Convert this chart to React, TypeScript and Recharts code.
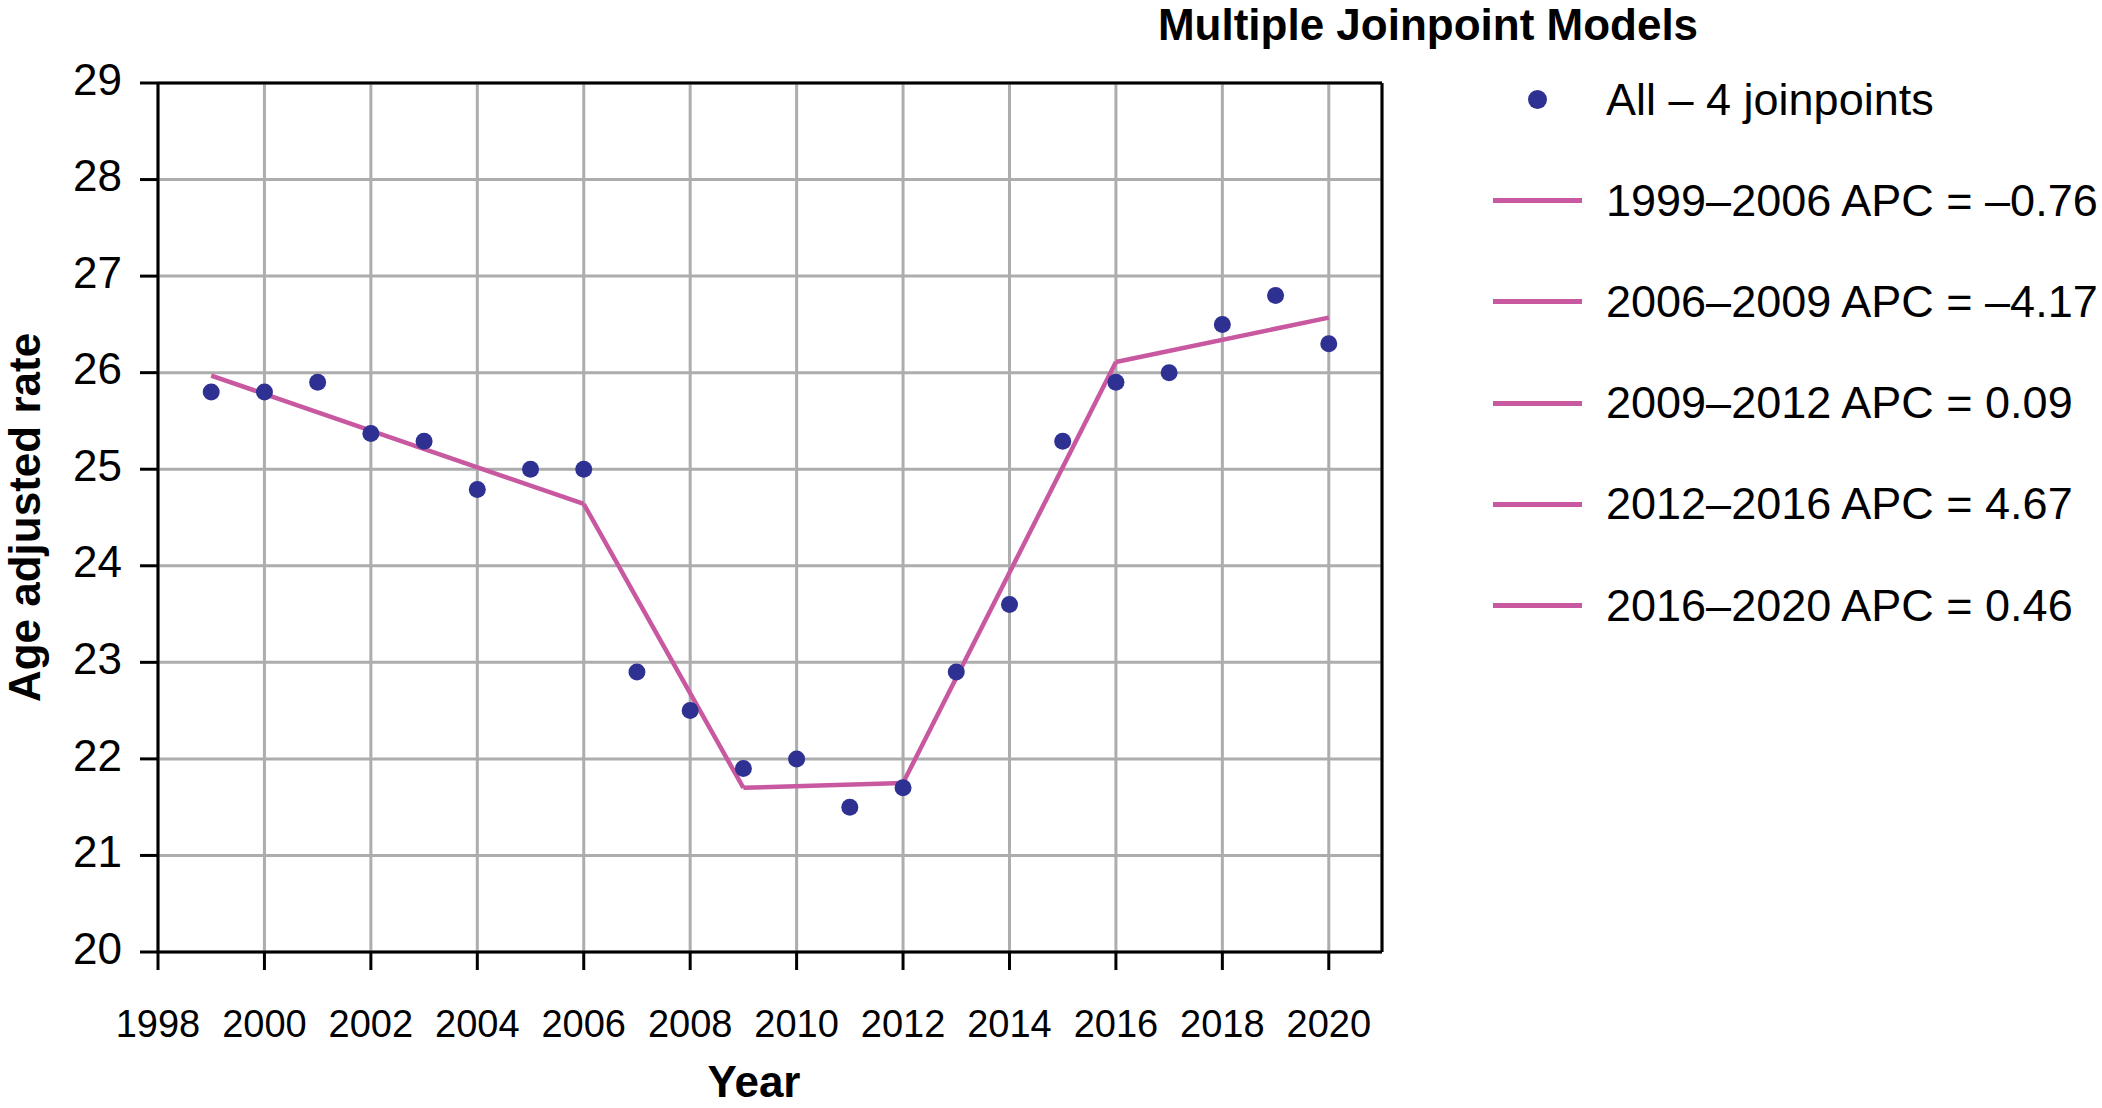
import React from 'react';
import { ComposedChart, Scatter, Line, XAxis, YAxis, CartesianGrid, ReferenceLine } from 'recharts';

const years = [1999, 2000, 2001, 2002, 2003, 2004, 2005, 2006, 2007, 2008, 2009, 2010, 2011, 2012, 2013, 2014, 2015, 2016, 2017, 2018, 2019, 2020];
const rates = [25.8, 25.8, 25.9, 25.37, 25.29, 24.79, 25.0, 25.0, 22.9, 22.5, 21.9, 22.0, 21.5, 21.7, 22.9, 23.6, 25.29, 25.9, 26.0, 26.5, 26.8, 26.3];

const joinpointYears = [1999, 2006, 2009, 2012, 2016, 2020];
const joinpointFits = [25.97, 24.64, 21.7, 21.75, 26.11, 26.57];

const pointsLabel = 'All – 4 joinpoints';
const segmentLabels = [
  '1999–2006 APC = –0.76',
  '2006–2009 APC = –4.17',
  '2009–2012 APC = 0.09',
  '2012–2016 APC = 4.67',
  '2016–2020 APC = 0.46',
];

const xTicks = [1998, 2000, 2002, 2004, 2006, 2008, 2010, 2012, 2014, 2016, 2018, 2020];
const yTicks = [20, 21, 22, 23, 24, 25, 26, 27, 28, 29];
const xDomain = [1998, 2021];
const yDomain = [20, 29];

const titleText = 'Multiple Joinpoint Models';
const xLabelText = 'Year';
const yLabelText = 'Age adjusted rate';

const DOT = '#2E3192';
const LINE = '#C858A0';
const GRID = '#ADADAD';
const FONT = "'Liberation Sans', Arial, sans-serif";

const pointData = years.map((year, i) => ({ year, rate: rates[i] }));
const segments = segmentLabels.map((name, i) => ({
  name,
  data: [
    { year: joinpointYears[i], fit: joinpointFits[i] },
    { year: joinpointYears[i + 1], fit: joinpointFits[i + 1] },
  ],
}));

const legendItems = [
  { label: pointsLabel, kind: 'dot', color: DOT },
  ...segmentLabels.map((label) => ({ label, kind: 'line', color: LINE })),
];

const DotShape = (props: any) => {
  const { cx, cy } = props;
  if (cx == null || cy == null) return null;
  return <circle cx={cx} cy={cy} r={8.5} fill={DOT} />;
};

const YLabel = (props: any) => {
  const vb = props.viewBox || { x: 0, y: 83, width: 158, height: 869 };
  const x = vb.x + 40;
  const y = vb.y + vb.height / 2;
  return (
    <text
      x={x}
      y={y}
      transform={`rotate(-90 ${x} ${y})`}
      textAnchor="middle"
      fontFamily={FONT}
      fontWeight="bold"
      fontSize={44}
      fill="#000"
    >
      {yLabelText}
    </text>
  );
};

const XLabel = (props: any) => {
  const vb = props.viewBox || { x: 158, y: 952, width: 1224, height: 156 };
  const x = vb.x + vb.width / 2 - 16;
  const y = vb.y + 145;
  return (
    <text x={x} y={y} textAnchor="middle" fontFamily={FONT} fontWeight="bold" fontSize={44} fill="#000">
      {xLabelText}
    </text>
  );
};

export default function App() {
  return (
    <div style={{ position: 'absolute', left: 0, top: 0, width: 2102, height: 1108, background: '#fff', fontFamily: FONT }}>
      <ComposedChart width={2102} height={1108} margin={{ top: 83, right: 720, bottom: 0, left: 0 }}>
        <CartesianGrid stroke={GRID} strokeWidth={3} />
        <XAxis
          type="number"
          dataKey="year"
          domain={xDomain}
          ticks={xTicks}
          interval={0}
          height={156}
          tickSize={18}
          tickMargin={40}
          axisLine={{ stroke: '#000', strokeWidth: 3 }}
          tickLine={{ stroke: '#000', strokeWidth: 3 }}
          tick={{ fontSize: 38, fill: '#000', fontFamily: FONT }}
          label={{ content: XLabel }}
        />
        <YAxis
          type="number"
          domain={yDomain}
          ticks={yTicks}
          interval={0}
          width={158}
          tickSize={18}
          tickMargin={18}
          axisLine={{ stroke: '#000', strokeWidth: 3 }}
          tickLine={{ stroke: '#000', strokeWidth: 3 }}
          tick={{ fontSize: 44, fill: '#000', fontFamily: FONT, dy: -4 }}
          label={{ content: YLabel }}
        />
        <ReferenceLine x={xDomain[1]} stroke="#000" strokeWidth={3} />
        <ReferenceLine y={yDomain[1]} stroke="#000" strokeWidth={3} />
        {segments.map((s) => (
          <Line
            key={s.name}
            name={s.name}
            data={s.data}
            dataKey="fit"
            type="linear"
            stroke={LINE}
            strokeWidth={4.5}
            dot={false}
            activeDot={false}
            isAnimationActive={false}
          />
        ))}
        <Scatter name={pointsLabel} data={pointData} dataKey="rate" fill={DOT} shape={DotShape} isAnimationActive={false} />
      </ComposedChart>

      <div
        style={{
          position: 'absolute',
          left: 1028,
          top: 0,
          width: 800,
          textAlign: 'center',
          fontSize: 44,
          fontWeight: 'bold',
          color: '#000',
          whiteSpace: 'nowrap',
        }}
      >
        {titleText}
      </div>

      <div style={{ position: 'absolute', left: 1493, top: 49, width: 609 }}>
        {legendItems.map((item) => (
          <div key={item.label} style={{ height: 101.2, display: 'flex', alignItems: 'center' }}>
            <div style={{ width: 89, height: 20, position: 'relative', flex: 'none' }}>
              {item.kind === 'dot' ? (
                <div
                  style={{
                    position: 'absolute',
                    left: 44.5 - 9.5,
                    top: 10 - 9.5,
                    width: 19,
                    height: 19,
                    borderRadius: '50%',
                    background: item.color,
                  }}
                />
              ) : (
                <div style={{ position: 'absolute', left: 0, top: 7.5, width: 89, height: 5, background: item.color }} />
              )}
            </div>
            <div style={{ marginLeft: 24, fontSize: 45, color: '#000', whiteSpace: 'nowrap' }}>{item.label}</div>
          </div>
        ))}
      </div>
    </div>
  );
}
